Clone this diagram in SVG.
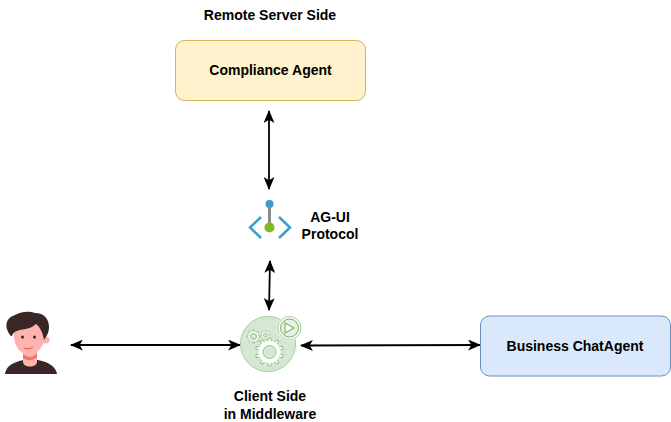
<svg xmlns="http://www.w3.org/2000/svg" width="671" height="422" viewBox="0 0 671 422">
<defs>
<marker id="a" viewBox="0 0 12 10" refX="11" refY="5" markerWidth="13" markerHeight="11" markerUnits="userSpaceOnUse" orient="auto-start-reverse"><path d="M0 0 L12 5 L0 10 L3 5Z" fill="#000"/></marker>
<path id="t" d="M-2.200 0L-1.400 -14H1.400L2.200 0Z" fill="#fff" stroke="#8fc08a" stroke-width="1"/>
<path id="s" d="M-1 0L-.8 -6.500H.8L1 0Z" fill="#fff" stroke="#82b366" stroke-width=".8"/>
</defs>
<style>
text{font-family:"Liberation Sans",Arial,sans-serif;font-size:14px;font-weight:bold;fill:#000;text-anchor:middle}
.c{fill:none;stroke:#000;stroke-width:1.800;marker-start:url(#a);marker-end:url(#a)}
</style>
<rect width="671" height="422" fill="#fff"/>
<g id="connectors">
<path class="c" d="M269 111V189"/>
<path class="c" d="M270 261L269 310"/>
<path class="c" d="M71 345H240"/>
<path class="c" d="M301 345.500L480 345"/>
</g>
<g id="remote-label"><text x="270" y="20">Remote Server Side</text></g>
<g id="compliance-agent">
<rect x="175.500" y="40.500" width="190" height="60" rx="9" fill="#fff2cc" stroke="#d6b656"/>
<text x="270.500" y="75">Compliance Agent</text>
</g>
<g id="ag-ui">
<path d="M269.500 204V228" stroke="#8c8c8c" stroke-width="3"/>
<circle cx="269.500" cy="204" r="4" fill="#3a9bc9"/>
<circle cx="269.500" cy="227.500" r="5" fill="#7fba22"/>
<path d="M261 217L250 227.500L261 238M279 217L290 227.500L279 238" fill="none" stroke="#36a0cf" stroke-width="2.500"/>
<text x="330" y="222">AG-UI</text>
<text x="330" y="239">Protocol</text>
</g>
<g id="client">
<circle cx="268" cy="344" r="27.500" fill="#d5e8d4" stroke="#a4cf9f" stroke-width="1"/>
<circle cx="289.500" cy="328" r="11" fill="#d5e8d4" stroke="#fff" stroke-width="3"/>
<circle cx="289.500" cy="328" r="11.500" fill="none" stroke="#a4cf9f" stroke-width="1"/>
<circle cx="289.500" cy="328" r="9" fill="#e6f2e4" stroke="#82b366" stroke-width="1"/>
<path d="M285 323L294 328L285 333Z" fill="#fff" stroke="#82b366" stroke-width="1.200"/>
<g transform="translate(269.500 352)">
<use href="#t"/><use href="#t" transform="rotate(36)"/><use href="#t" transform="rotate(72)"/><use href="#t" transform="rotate(108)"/><use href="#t" transform="rotate(144)"/><use href="#t" transform="rotate(180)"/><use href="#t" transform="rotate(216)"/><use href="#t" transform="rotate(252)"/><use href="#t" transform="rotate(288)"/><use href="#t" transform="rotate(324)"/>
<circle r="11" fill="#fff"/>
<circle r="6.500" fill="#d5e8d4" stroke="#8fc08a" stroke-width="1"/>
</g>
<g transform="translate(253.500 336.500)">
<use href="#s"/><use href="#s" transform="rotate(45)"/><use href="#s" transform="rotate(90)"/><use href="#s" transform="rotate(135)"/><use href="#s" transform="rotate(180)"/><use href="#s" transform="rotate(225)"/><use href="#s" transform="rotate(270)"/><use href="#s" transform="rotate(315)"/>
<circle r="5" fill="#fff"/>
<circle r="3" fill="#d5e8d4" stroke="#82b366" stroke-width=".9"/>
</g>
<g transform="translate(265.500 335) scale(.65)">
<use href="#s"/><use href="#s" transform="rotate(45)"/><use href="#s" transform="rotate(90)"/><use href="#s" transform="rotate(135)"/><use href="#s" transform="rotate(180)"/><use href="#s" transform="rotate(225)"/><use href="#s" transform="rotate(270)"/><use href="#s" transform="rotate(315)"/>
<circle r="5" fill="#fff"/>
<circle r="3" fill="#d5e8d4" stroke="#82b366" stroke-width="1.100"/>
</g>
<text x="270" y="401">Client Side</text>
<text x="270" y="419">in Middleware</text>
</g>
<g id="user">
<path d="M5 374C6 366 13 362 24 360L38 360C49 362 56 367 57 374Z" fill="#3a2626"/>
<path d="M23 348H37V362C37 368 23 368 23 362Z" fill="#ffb3ae"/>
<path d="M23 354C28 358 33 358 37 353V357C33 361 27 361 23 358Z" fill="#f2736a"/>
<path d="M13.500 324L44 324L45 338C43 349 35 355 29 355C21 355 15 347 14 338Z" fill="#ffb3ae"/>
<circle cx="46" cy="340" r="3.500" fill="#ffb3ae"/>
<path d="M11 336C4 328 5 318 15 315C22 311 30 311 35 313C44 313 49 319 49 327C49 333 46 337 44 340C43 334 41 328 36 324C32 328 26 329 20 330C15 331 13 333 12 336Z" fill="#3a2626"/>
<circle cx="22.500" cy="337" r="1.500" fill="#3a2626"/>
<circle cx="34.500" cy="337" r="1.500" fill="#3a2626"/>
<path d="M23.500 348C27 349.500 30 349 33 347" fill="none" stroke="#e8505b" stroke-width="1"/>
</g>
<g id="business-chatagent">
<rect x="480.500" y="316" width="190" height="60" rx="9" fill="#dae8fc" stroke="#6c8ebf"/>
<text x="575" y="351">Business ChatAgent</text>
</g>
</svg>
